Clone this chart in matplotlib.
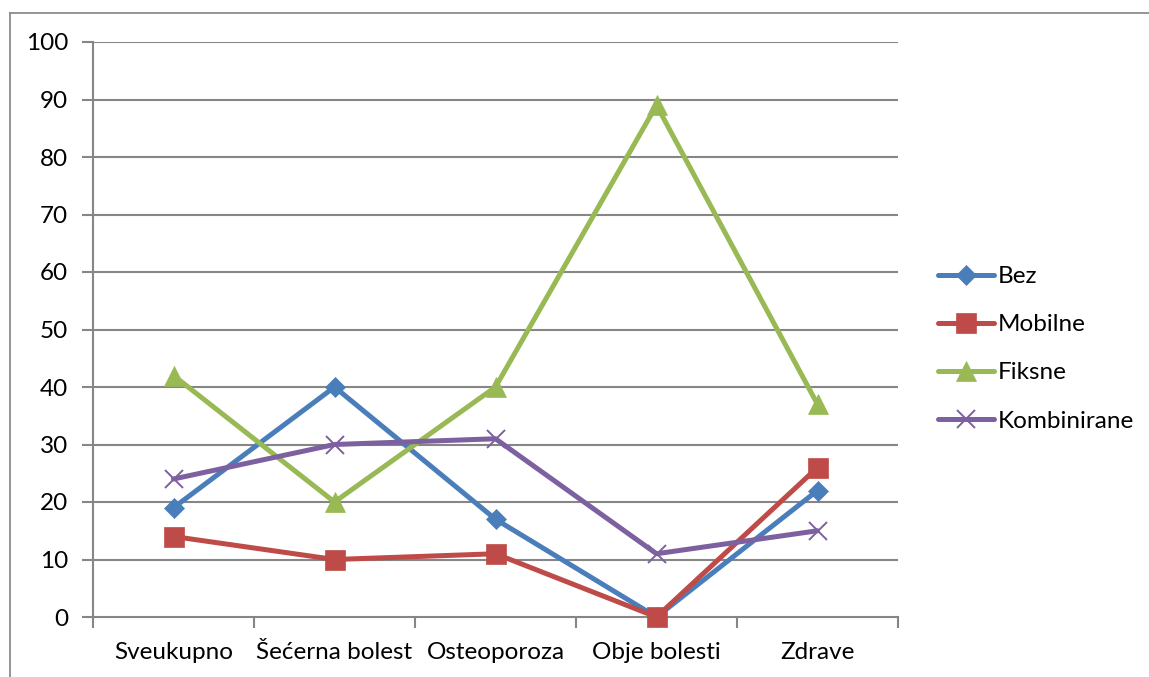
import matplotlib
matplotlib.use("Agg")
import matplotlib.pyplot as plt
from matplotlib.lines import Line2D
import numpy as np

categories = ["Sveukupno", "Šećerna bolest", "Osteoporoza", "Obje bolesti", "Zdrave"]
bez = [19, 40, 17, 0, 22]
mobilne = [14, 10, 11, 0, 26]
fiksne = [42, 20, 40, 89, 37]
kombinirane = [24, 30, 31, 11, 15]
series_names = ["Bez", "Mobilne", "Fiksne", "Kombinirane"]
y_ticks = list(range(0, 101, 10))

plt.rcParams['font.family'] = ['Lato', 'DejaVu Sans']

fig = plt.figure(figsize=(11.49, 6.77), dpi=100)
ax = fig.add_axes([93/1149, 1-617/677, (898-93)/1149, (617-42)/677])

# outer frame (left and top edges visible)
frame_c = '#8c8c8c'
fig.add_artist(Line2D([10/1149, 10/1149], [0, 1-13/677], transform=fig.transFigure,
                      color=frame_c, linewidth=1.3))
fig.add_artist(Line2D([10/1149, 1.01], [1-13/677, 1-13/677], transform=fig.transFigure,
                      color=frame_c, linewidth=1.3))

x = np.arange(len(categories))
grid_c = '#868686'
for yv in y_ticks[1:]:
    ax.axhline(yv, color=grid_c, linewidth=1.5, zorder=1)

styles = [
    (bez, '#4A7EBB', 'D', 10),
    (mobilne, '#BE4B48', 's', 14),
    (fiksne, '#98B954', '^', 15),
    (kombinirane, '#7D60A0', 'x', 13),
]
handles = []
for (vals, col, mk, ms), name in zip(styles, series_names):
    kw = dict(color=col, linewidth=3.6, marker=mk, markersize=ms,
              markerfacecolor=col, markeredgecolor=col, solid_capstyle='round',
              solid_joinstyle='round', zorder=3)
    kw['markeredgewidth'] = 1.4 if mk == 'x' else 0.5
    ax.plot(x, vals, clip_on=False, **kw)
    handles.append(Line2D([0], [0], label=name, **kw))

ax.set_xlim(-0.5, len(categories) - 0.5)
ax.set_ylim(0, 100)
ax.set_yticks(y_ticks)
ax.set_xticks(x)
ax.set_xticklabels(categories)
ax.set_xticks(np.arange(-0.5, len(categories), 1.0), minor=True)
ax.tick_params(axis='x', which='major', length=0, pad=18, labelsize=17.5, colors='black')
ax.tick_params(axis='x', which='minor', length=8, width=1.5, color=grid_c, direction='out')
ax.tick_params(axis='y', length=8, width=1.5, color=grid_c, direction='out', labelsize=17.5, pad=10)

for s in ['top', 'right']:
    ax.spines[s].set_visible(False)
for s in ['left', 'bottom']:
    ax.spines[s].set_color(grid_c)
    ax.spines[s].set_linewidth(1.5)

leg = fig.legend(handles=handles, loc='upper left', bbox_to_anchor=(938/1149, 1-266/677),
                 frameon=False, fontsize=17.5, handlelength=2.3, handletextpad=0.15,
                 labelspacing=1.12, borderaxespad=0, borderpad=0)

fig.savefig("out.png", dpi=100)
